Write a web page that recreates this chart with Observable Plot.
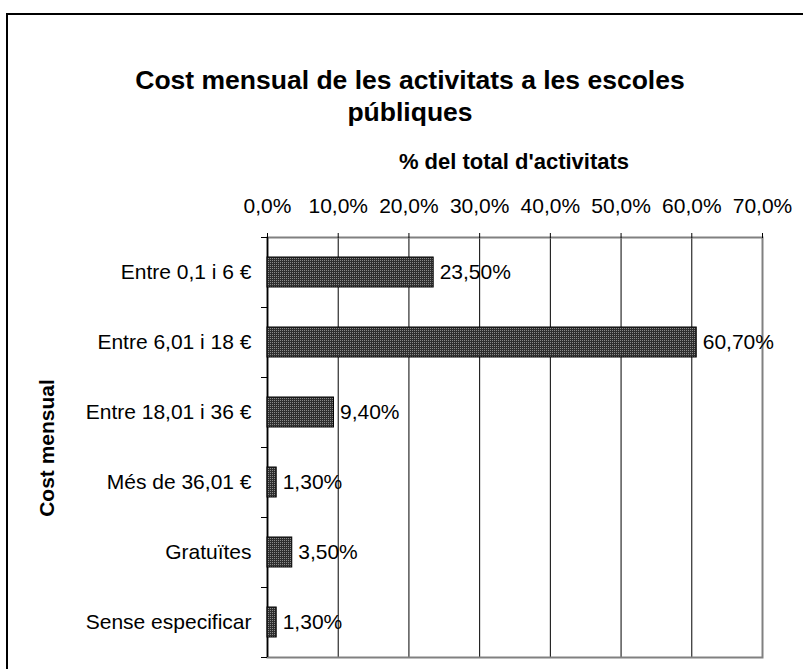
<!DOCTYPE html>
<html>
<head>
<meta charset="utf-8">
<script src="https://cdn.jsdelivr.net/npm/d3@7"></script>
<script src="https://cdn.jsdelivr.net/npm/@observablehq/plot@0.6"></script>
<style>
  html, body { margin: 0; padding: 0; background: #fff; }
  body { font-family: "Liberation Sans", Arial, sans-serif; }
  #wrap { position: relative; width: 803px; height: 669px; overflow: hidden; }
  #border { position: absolute; left: 6px; top: 13px; width: 820px; height: 700px; border: 2px solid #000; box-sizing: border-box; }
  #title { position: absolute; left: 10px; top: 64px; width: 800px; text-align: center; font-weight: bold; font-size: 26.5px; line-height: 32px; color: #000; }
  #xlabel { position: absolute; left: 314px; top: 149px; width: 400px; text-align: center; font-weight: bold; font-size: 22px; line-height: 26px; }
  #ylabel { position: absolute; left: 47px; top: 448px; transform: translate(-50%, -50%) rotate(-90deg); white-space: nowrap; font-weight: bold; font-size: 21px; }
  #chart { position: absolute; left: 0; top: 0; }
</style>
</head>
<body>
<div id="wrap">
  <div id="border"></div>
  <div id="chart"></div>
  <div id="title">Cost mensual de les activitats a les escoles<br>públiques</div>
  <div id="xlabel">% del total d'activitats</div>
  <div id="ylabel">Cost mensual</div>
</div>
<script>
const categories = ["Entre 0,1 i 6 €", "Entre 6,01 i 18 €", "Entre 18,01 i 36 €", "Més de 36,01 €", "Gratuïtes", "Sense especificar"];
const values = [23.5, 60.7, 9.4, 1.3, 3.5, 1.3];
const xTicks = [0, 10, 20, 30, 40, 50, 60, 70];

const data = categories.map((c, i) => ({cat: c, value: values[i]}));
const fmtTick = d => d.toFixed(1).replace(".", ",") + "%";
const fmtVal = d => d.toFixed(2).replace(".", ",") + "%";

const chart = Plot.plot({
  width: 803,
  height: 669,
  marginTop: 237,
  marginBottom: 12,
  marginLeft: 267,
  marginRight: 41,
  style: {fontFamily: "'Liberation Sans', Arial, sans-serif", fontSize: "21px", background: "transparent", color: "#000"},
  x: {domain: [0, 70]},
  y: {domain: categories, paddingInner: 0.5714, paddingOuter: 0.2857, align: 0.5},
  marks: [
    Plot.gridX(xTicks.slice(1, -1), {stroke: "#000", strokeOpacity: 1, strokeWidth: 1}),
    Plot.frame({stroke: "#808080", strokeWidth: 2}),
    Plot.ruleX([0], {stroke: "#000", strokeWidth: 1.5}),
    Plot.axisX({anchor: "top", ticks: xTicks, tickFormat: fmtTick, tickSize: 5, tickPadding: 20, fontSize: 21, label: null, stroke: "#000"}),
    Plot.axisY({anchor: "left", ticks: categories, tickSize: 6, tickFormat: () => "", dy: -35, label: null}),
    Plot.axisY({anchor: "left", ticks: categories.slice(-1), tickSize: 6, tickFormat: () => "", dy: 35, label: null}),
    Plot.axisY({anchor: "left", ticks: categories, tickSize: 0, tickPadding: 16, fontSize: 21, label: null}),
    Plot.barX(data, {x: "value", y: "cat", fill: "url(#dots)", stroke: "#000", strokeWidth: 1}),
    Plot.text(data, {x: "value", y: "cat", text: d => fmtVal(d.value), textAnchor: "start", dx: 6, fontSize: 21, fill: "#000"})
  ]
});

const svg = d3.select(chart);
const pat = svg.insert("defs", ":first-child").append("pattern")
  .attr("id", "dots").attr("width", 2).attr("height", 2).attr("patternUnits", "userSpaceOnUse");
pat.append("rect").attr("width", 2).attr("height", 2).attr("fill", "#2e2e2e");
pat.append("rect").attr("x", 0).attr("y", 0).attr("width", 1).attr("height", 1).attr("fill", "#8a8a8a");

document.getElementById("chart").appendChild(chart);
</script>
</body>
</html>
